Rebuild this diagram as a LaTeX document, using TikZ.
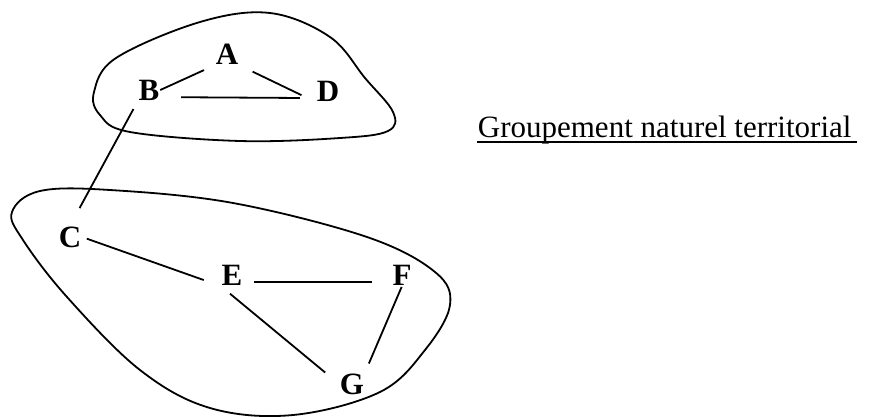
\documentclass[tikz,border=0pt]{standalone}
\usepackage{fontspec}
\setmainfont{Liberation Serif}
\usepackage{tikz}
\newcommand{\LetterFont}{\fontsize{31}{37}\selectfont\bfseries}
\newcommand{\TitleFont}{\fontsize{31}{37}\selectfont}

\begin{document}
\begin{tikzpicture}[x=1pt,y=-1pt,line width=1.8pt,
    lettre/.style={inner sep=0pt,font=\LetterFont}]
          \useasboundingbox (0,0) rectangle (871,416);
          % the two groups
          \draw plot[smooth cycle,tension=0.6] coordinates {(94,92) (116,58) (200,22) (270,13) (330,37) (365,78) (393,112) (388,131) (340,138) (240,141) (130,132) (100,115)};
          \draw plot[smooth cycle,tension=0.6] coordinates {(12,212) (40,191) (110,190) (233,203) (367,237) (435,272) (450,305) (425,350) (380,392) (293,415) (210,408) (140,370) (67,297) (23,240)};
          \node[lettre] (A) at (227,54) {A};
          \node[lettre] (B) at (149,90) {B};
          \node[lettre] (D) at (328,91) {D};
          \node[lettre] (C) at (70,237) {C};
          \node[lettre] (E) at (232,275) {E};
          \node[lettre] (F) at (402,275) {F};
          \node[lettre] (G) at (352,384) {G};
          \draw[shorten >=12pt] (B.east) -- (A.south west);
          \draw[shorten <=15pt,shorten >=16pt] (A.south east) -- (D.south west);
          \draw[shorten <=21pt,shorten >=16pt] ([yshift=4pt]B.south east) -- ([yshift=4pt]D.south west);
          \draw[shorten <=9pt,shorten >=20pt] (B.south west) -- (C.north);
          \draw[shorten <=5pt,shorten >=18pt] (C.east) -- (E.south west);
          \draw[shorten <=11pt,shorten >=20pt] ([yshift=3pt]E.base east) -- ([yshift=3pt]F.base west);
          \draw[shorten <=12pt,shorten >=18pt] (E.south west) -- (G.west);
          \draw[shorten <=1pt,shorten >=10pt] (F.south) -- (G.north east);
          \node[inner sep=0pt,anchor=base west,font=\TitleFont] (titre) at (477,137) {Groupement naturel territorial};
          \draw ([yshift=-5pt]titre.base west) -- ([yshift=-5pt,xshift=5pt]titre.base east);
        \end{tikzpicture}
\end{document}
